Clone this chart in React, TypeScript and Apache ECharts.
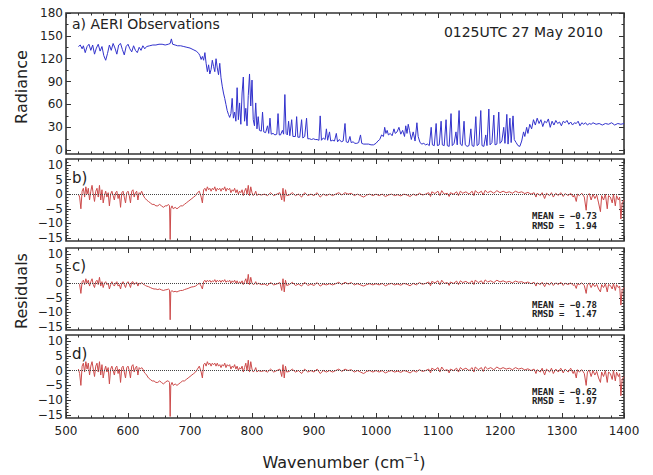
import React, { useEffect, useRef } from "react";
import * as echarts from "echarts";

// ---------- data ----------
const xTicks = [500, 600, 700, 800, 900, 1000, 1100, 1200, 1300, 1400];
const radTicks = [0, 30, 60, 90, 120, 150, 180];
const radMinorTicks = [15, 45, 75, 105, 135, 165];
const resTicks = [-15, -10, -5, 0, 5, 10];
const resMinorTicks = [-14, -13, -12, -11, -9, -8, -7, -6, -4, -3, -2, -1, 1, 2, 3, 4, 6, 7, 8, 9, 11];

// AERI observed radiance [wavenumber, radiance]
const radiance: [number, number][] = [
  [520, 136], [523, 138], [526, 133], [528, 137], [531, 128], [534, 136], [537, 139], [540, 131], [543, 138], [546, 126],
  [549, 134], [552, 139], [555, 130], [558, 136], [561, 124], [564, 118], [567, 127], [570, 138], [573, 131], [576, 140],
  [579, 134], [582, 126], [585, 138], [588, 140], [591, 132], [594, 125], [597, 136], [600, 139], [603, 133], [606, 129],
  [609, 137], [612, 131], [615, 128], [618, 135], [621, 131], [624, 137], [627, 133], [630, 136], [635, 137], [640, 138],
  [645, 138], [650, 139], [655, 139], [660, 138], [665, 139], [668, 140], [670, 146], [672, 139], [676, 138], [680, 137],
  [685, 137], [690, 136], [695, 135], [700, 134], [705, 132], [710, 130], [714, 127], [716, 124], [718, 119], [720, 123],
  [722, 118], [724, 128], [726, 114], [728, 103], [730, 112], [732, 100], [734, 106], [736, 118], [738, 110], [740, 103],
  [742, 120], [744, 108], [746, 99], [748, 114], [750, 95], [752, 84], [754, 75], [756, 68], [758, 60], [760, 52],
  [762, 47], [764, 43], [766, 48], [768, 68], [770, 42], [772, 50], [774, 38], [776, 82], [778, 40], [780, 62],
  [782, 34], [784, 75], [786, 96], [788, 38], [790, 55], [792, 32], [794, 72], [796, 100], [798, 58], [800, 92],
  [802, 40], [804, 32], [806, 62], [808, 28], [810, 44], [812, 26], [815, 25], [817, 50], [819, 24], [822, 23],
  [825, 32], [827, 22], [829, 42], [831, 21], [834, 22], [837, 20], [840, 21], [842, 48], [844, 20], [846, 20],
  [849, 26], [851, 21], [853, 73], [855, 22], [857, 20], [859, 38], [861, 19], [864, 40], [866, 18], [870, 18],
  [872, 44], [874, 17], [877, 17], [880, 40], [882, 16], [885, 18], [888, 42], [890, 15], [893, 15], [896, 14],
  [899, 15], [902, 14], [905, 14], [908, 13], [910, 45], [912, 13], [915, 16], [918, 14], [920, 28], [922, 13],
  [925, 24], [927, 12], [930, 13], [933, 12], [936, 22], [938, 11], [941, 14], [944, 11], [947, 12], [950, 35],
  [952, 11], [955, 10], [958, 18], [960, 10], [963, 11], [966, 9], [969, 9], [972, 10], [975, 20], [977, 9],
  [980, 8], [984, 8], [988, 8], [992, 7], [996, 7], [1000, 9], [1003, 12], [1006, 14], [1009, 20], [1012, 18],
  [1014, 30], [1016, 22], [1018, 26], [1020, 20], [1023, 22], [1026, 19], [1029, 28], [1031, 22], [1034, 24], [1037, 30],
  [1040, 21], [1043, 26], [1046, 18], [1048, 32], [1050, 22], [1052, 34], [1054, 26], [1057, 14], [1060, 24], [1063, 12],
  [1066, 36], [1068, 18], [1071, 10], [1074, 8], [1077, 9], [1080, 7], [1083, 8], [1086, 6], [1089, 30], [1091, 7],
  [1094, 6], [1097, 35], [1099, 6], [1102, 7], [1105, 38], [1107, 7], [1110, 6], [1113, 40], [1115, 6], [1118, 5],
  [1121, 48], [1123, 6], [1126, 9], [1129, 24], [1131, 7], [1134, 52], [1136, 8], [1139, 6], [1142, 38], [1144, 7],
  [1147, 5], [1150, 6], [1153, 28], [1155, 6], [1158, 5], [1161, 44], [1163, 6], [1166, 8], [1169, 52], [1171, 6],
  [1174, 5], [1177, 20], [1179, 6], [1182, 54], [1184, 7], [1187, 10], [1190, 46], [1192, 7], [1195, 8], [1198, 50],
  [1200, 9], [1203, 12], [1206, 30], [1208, 9], [1211, 47], [1213, 8], [1216, 42], [1218, 10], [1221, 45], [1223, 14],
  [1226, 10], [1229, 6], [1232, 5], [1235, 12], [1238, 24], [1240, 18], [1243, 30], [1245, 22], [1248, 34], [1251, 28],
  [1254, 40], [1257, 33], [1260, 42], [1263, 35], [1266, 40], [1269, 31], [1272, 38], [1275, 36], [1278, 41], [1281, 30],
  [1284, 38], [1287, 33], [1290, 39], [1293, 35], [1296, 37], [1299, 32], [1302, 38], [1305, 36], [1308, 39], [1311, 34],
  [1314, 37], [1317, 33], [1320, 36], [1323, 35], [1326, 38], [1329, 32], [1332, 36], [1335, 34], [1338, 36], [1341, 33],
  [1344, 35], [1347, 34], [1350, 36], [1355, 34], [1360, 35], [1365, 33], [1370, 35], [1375, 34], [1380, 36], [1385, 33],
  [1390, 35], [1395, 34], [1400, 35],
];

// residual wavenumber grid (shared by panels b, c, d)
const resX = [
  520, 522, 524, 526, 528, 530, 532, 534, 536, 538,
  540, 542, 544, 546, 548, 550, 552, 554, 556, 558,
  560, 562, 564, 566, 568, 570, 572, 574, 576, 578,
  580, 582, 584, 586, 588, 590, 592, 594, 596, 598,
  600, 602, 604, 606, 608, 610, 612, 614, 616, 618,
  620, 622, 624, 626, 628, 630, 633, 636, 639, 642,
  645, 648, 651, 654, 657, 660, 663, 665, 667, 668,
  669, 671, 673, 676, 679, 682, 685, 688, 691, 694,
  697, 700, 703, 706, 709, 712, 715, 718, 720, 722,
  724, 726, 728, 730, 732, 734, 736, 738, 740, 742,
  744, 746, 748, 750, 752, 754, 756, 758, 760, 762,
  764, 766, 768, 770, 772, 774, 776, 778, 780, 782,
  784, 786, 788, 790, 792, 794, 796, 798, 800, 802,
  804, 806, 808, 810, 815, 820, 825, 830, 835, 840,
  845, 848, 850, 852, 854, 856, 860, 865, 870, 875,
  880, 885, 890, 895, 900, 905, 910, 915, 920, 925,
  930, 935, 940, 945, 950, 955, 960, 965, 970, 975,
  980, 985, 990, 995, 1000, 1005, 1010, 1015, 1020, 1025,
  1030, 1035, 1040, 1045, 1050, 1055, 1060, 1065, 1070, 1075,
  1080, 1085, 1088, 1090, 1095, 1100, 1103, 1106, 1110, 1115,
  1118, 1120, 1125, 1130, 1133, 1136, 1140, 1145, 1150, 1155,
  1158, 1160, 1165, 1170, 1173, 1176, 1180, 1185, 1190, 1195,
  1200, 1205, 1210, 1215, 1220, 1225, 1230, 1235, 1240, 1245,
  1250, 1255, 1258, 1260, 1265, 1268, 1272, 1275, 1280, 1283,
  1286, 1290, 1294, 1298, 1302, 1305, 1310, 1314, 1318, 1320,
  1323, 1325, 1328, 1332, 1336, 1339, 1341, 1344, 1347, 1350,
  1353, 1356, 1359, 1362, 1364, 1367, 1370, 1373, 1375, 1378,
  1381, 1383, 1386, 1388, 1391, 1393, 1395, 1397, 1400,
];

const residualB = [
  0, -1, -5, 1, 2, -1, 2.5, 0, 2, -2,
  1, 3, 0, -2.5, 1, 2, -1, 3, -2, 1.5,
  -3, -0.5, 1, -1, 0.5, -4, 0, 1, -0.5, -2,
  0.5, 1, -1.5, 0, -4.5, 0.5, 1, -1, -3, 0.5,
  1, -0.5, -3, 1, 1.5, -1, 0.5, 1, -2, 0.5,
  0, 1, 0, -1, -1.5, -2, -2.5, -3, -3.5, -3.5,
  -4, -4, -3.5, -4, -4.5, -4, -4, -3.5, -4, -15.5,
  -5, -4, -5, -4.5, -5, -4.5, -4, -4, -3.5, -3,
  -2.5, -2, -1.5, -1, -0.5, 0.5, 1, -1, -3, 1.5,
  2, 1, 2.5, 1.5, 2, 1, 2, 1.5, 2.5, 1,
  2, 1.5, 2, 1, 2, 1.5, 2.5, 1, 2, 1.5,
  2, 0.5, 1.5, 1, 2, 0.5, 1.5, 0, 1, 0.5,
  1.5, -0.5, 1, 2, 0, 3, -0.5, 2.5, 0.5, -0.5,
  0, 1, -0.5, 0, -0.3, 0, -0.5, 0.5, -0.5, 0,
  0.5, -2, 2, -2.5, 1.5, -0.5, -0.3, 0.5, -0.5, 0,
  -1, 0.5, -0.5, 0, -0.5, 0.5, -1, 0, -0.5, 0,
  -0.5, 0, 0.5, -0.3, 0.5, 0, 0.3, -0.5, 0, -0.5,
  -1, -0.3, 0, -0.5, 0, -0.5, 0, -0.8, -0.3, 0,
  -0.5, -0.2, -0.6, 0, -0.3, -0.8, 0, -0.5, 0.3, -0.3,
  0, 0.5, -0.8, 0.8, 0.2, 1, -0.5, 1.2, 0, 0.3,
  -0.8, 0.5, 0, 0.8, -0.5, 1, 0.3, 0.8, 0, 1,
  -0.5, 1.2, 0.3, 1, -0.3, 1.3, 0.5, 1, 0.3, 1.2,
  0.5, 1, 0.5, 0.8, 0.3, 1, 0.5, 0.8, 0.2, 0.6,
  0, 0.5, -1, 0.3, -0.5, 0.5, -1.5, 0.3, -0.5, 0.5,
  -1, 0.3, -0.5, 0.5, -0.8, 0.2, -0.5, 0.3, -1, -0.3,
  -2.5, 0, -0.5, 0.3, -1, -5.5, -0.5, 0.2, -2, 0,
  -1.5, -0.3, -3, -6, -0.5, -2, 0, -5, -0.5, -1,
  -3, 0, -4, -0.5, -2, -1, -8.5, -3, -2,
];

const residualC = [
  0, -0.5, -3.5, 0.5, 1, -0.5, 1.5, 0, 1, -1,
  0.5, 1.5, -0.5, -1.5, 0.5, 1, -0.5, 2, -1, 0.5,
  -1.5, 0, 0.5, -0.5, 0, -2, -0.5, 0.5, -0.5, -1,
  0, 0.5, -1, -0.5, -2, 0, 0.5, -0.5, -1.5, 0,
  0.5, -0.3, -1.5, 0.3, 0.5, -0.5, 0, 0.3, -1, 0,
  -0.3, 0.2, -0.3, -0.5, -0.8, -1, -1.2, -1.5, -1.8, -2,
  -2, -2.2, -2, -2.3, -2.5, -2.3, -2.2, -2, -2.3, -12.5,
  -3, -2.5, -3, -2.8, -3, -2.7, -2.5, -2.5, -2.2, -2,
  -1.8, -1.5, -1.3, -1.2, -1, -0.5, 0, -1, -2, 0.5,
  1, 0.3, 1, 0.5, 1, 0.3, 0.8, 0.5, 1.2, 0.3,
  1, 0.5, 1, 0.3, 1, 0.5, 1.2, 0.3, 0.8, 0.5,
  1, 0, 0.8, 0.3, 1, 0, 0.8, -0.3, 0.5, 0,
  0.8, -0.5, 0.5, 1.5, -0.3, 3, -0.5, 2, 0, -0.5,
  -0.3, 0.5, -0.5, 0, -0.5, -0.3, -0.8, 0.2, -0.6, -0.3,
  0.2, -2.5, 1.5, -3, 1, -0.8, -0.5, 0.3, -0.8, -0.3,
  -1, 0.3, -0.8, -0.3, -0.8, 0.2, -1, -0.3, -0.6, -0.2,
  -0.6, -0.2, 0.3, -0.5, 0.3, -0.3, 0.2, -0.6, -0.2, -0.6,
  -1, -0.5, -0.2, -0.6, -0.2, -0.6, -0.1, -0.9, -0.4, -0.1,
  -0.6, -0.3, -0.7, -0.1, -0.4, -0.9, -0.1, -0.6, 0.2, -0.4,
  -0.1, 0.4, -0.9, 0.6, 0.1, 0.8, -0.6, 1, -0.1, 0.2,
  -0.8, 0.4, -0.1, 0.7, -0.5, 0.8, 0.2, 0.6, -0.1, 0.8,
  -0.5, 1, 0.2, 0.8, -0.3, 1.1, 0.4, 0.8, 0.2, 1,
  0.4, 0.8, 0.3, 0.6, 0.1, 0.7, 0.3, 0.5, 0, 0.4,
  -0.2, 0.3, -1, 0.1, -0.5, 0.3, -1.2, 0.1, -0.6, 0.3,
  -0.8, 0.1, -0.5, 0.3, -0.8, 0, -0.5, 0.1, -0.8, -0.4,
  -1.8, -0.2, -0.5, 0.1, -0.8, -3.5, -0.5, 0, -1.5, -0.2,
  -1.2, -0.4, -2, -3, -0.5, -1.5, -0.2, -3, -0.5, -0.8,
  -2, -0.2, -2.5, -0.5, -1.5, -1, -7.5, -2.5, -1.5,
];

const residualD = [
  0.5, -1, -5, 1.5, 2.5, -0.5, 3, 0.5, 2.5, -1.5,
  1.5, 3, 0.5, -2, 1.5, 2.5, -0.5, 3, -1.5, 2,
  -2.5, 0, 1.5, -0.5, 1, -4.5, 0.5, 1.5, 0, -1.5,
  1, 1.5, -1, 0.5, -4, 1, 1.5, -0.5, -2.5, 1,
  1.5, 0, -2.5, 1.5, 2, -0.5, 1, 1.5, -1.5, 1,
  0.5, 1, 0.5, -0.5, -1, -1.5, -2.5, -3, -3.5, -3.5,
  -4, -4, -3.5, -4, -4.5, -4, -3.5, -3.5, -4, -15.5,
  -5, -4, -5, -4.5, -5, -4.5, -4, -3.5, -3.5, -3,
  -2.5, -2, -1.5, -1, -0.5, 0.5, 1.5, -0.5, -2.5, 2,
  2.5, 1.5, 3, 2, 2.5, 1.5, 2.5, 2, 2.5, 1.5,
  2.5, 1.5, 2, 1, 2, 1.5, 2.5, 1, 2, 1.5,
  2, 0.5, 1.5, 1, 2, 0.5, 1.5, 0, 1, 0.5,
  1.5, -0.5, 1, 2.5, 0, 3.5, -0.5, 3, 0.5, -0.5,
  0, 1, -0.5, 0, -0.3, 0, -0.5, 0.5, -0.5, 0,
  0.5, -2, 2, -2.5, 1.5, -0.5, -0.3, 0.5, -0.5, 0,
  -1, 0.5, -0.5, 0, -0.5, 0.5, -1, 0, -0.5, 0,
  -0.5, 0, 0.5, -0.3, 0.5, 0, 0.3, -0.5, 0, -0.5,
  -1, -0.3, 0, -0.5, 0, -0.5, 0, -0.8, -0.3, 0,
  -0.5, -0.2, -0.6, 0, -0.3, -0.8, 0, -0.5, 0.3, -0.3,
  0, 0.5, -0.8, 0.8, 0.2, 1, -0.5, 1.2, 0, 0.3,
  -0.8, 0.5, 0, 0.8, -0.5, 1, 0.3, 0.8, 0, 1,
  -0.5, 1.2, 0.3, 1, -0.3, 1.3, 0.5, 1, 0.3, 1.2,
  0.5, 1, 0.5, 0.8, 0.3, 1, 0.5, 0.8, 0.2, 0.6,
  0, 0.5, -1, 0.3, -0.5, 0.8, -1.5, 0.5, -0.5, 0.8,
  -1, 0.5, -0.5, 0.8, -0.8, 0.5, -0.5, 0.8, -1, 0,
  -2.5, 0.3, -0.5, 0.3, -1, -5, -0.5, 0.2, -2, 0,
  -1.5, -0.3, -2.5, -4, -0.5, -2, 0, -4, -0.5, -1,
  -3, 0, -3.5, -0.5, -2, -1, -8.5, -3, -2,
];

const panelLabels = ["a) AERI Observations", "b)", "c)", "d)"];
const dateLabel = "0125UTC 27 May 2010";
const statsMean = ["-0.73", "-0.78", "-0.62"];
const statsRmsd = ["1.94", "1.47", "1.97"];

// ---------- styling ----------
const FONT = "DejaVu Sans";
const MONO = "DejaVu Sans Mono";
const INK = "#222";
const BLUE = "#3232cc";
const RED = "#cc4b4b";
const LEFT = 66;
const WIDTH = 558;
const GRIDS = [
  { top: 13, height: 141, min: -5, max: 180 },
  { top: 159, height: 82, min: -16, max: 12 },
  { top: 248, height: 82, min: -16, max: 12 },
  { top: 335, height: 83, min: -16, max: 12 },
];

const fmt = (v: number | string) => String(v).replace("-", "\u2212");

export default function App() {
  const ref = useRef<HTMLDivElement>(null);
  useEffect(() => {
    document.body.style.margin = "0";
    if (!ref.current) return;
    const chart = echarts.init(ref.current, undefined, { renderer: "svg" });

    const grid = GRIDS.map((g) => ({
      left: LEFT,
      width: WIDTH,
      top: g.top,
      height: g.height,
      show: true,
      borderColor: "#333",
      borderWidth: 1.6,
      backgroundColor: "transparent",
    }));

    const xAxis: any[] = [];
    GRIDS.forEach((_, i) => {
      ["bottom", "top"].forEach((pos) => {
        xAxis.push({
          type: "value",
          gridIndex: i,
          position: pos,
          min: xTicks[0],
          max: xTicks[xTicks.length - 1],
          interval: 100,
          axisLine: { show: false, onZero: false },
          splitLine: { show: false },
          axisTick: { show: true, inside: true, length: 5, lineStyle: { color: "#333", width: 1 } },
          minorTick: { show: true, splitNumber: 5, length: 2.5, lineStyle: { color: "#333", width: 1 } },
          minorSplitLine: { show: false },
          axisLabel: {
            show: i === 3 && pos === "bottom",
            formatter: (v: number) => String(v),
            fontFamily: FONT,
            fontSize: 12,
            color: INK,
            margin: 7,
          },
        });
      });
    });

    const yAxis: any[] = [];
    GRIDS.forEach((g, i) => {
      const majors = i === 0 ? radTicks : resTicks;
      const minors = i === 0 ? radMinorTicks : resMinorTicks;
      const base = {
        type: "value",
        gridIndex: i,
        min: g.min,
        max: g.max,
        axisLine: { show: false, onZero: false },
        splitLine: { show: false },
      };
      yAxis.push({
        ...base,
        position: "left",
        axisTick: { show: true, inside: true, length: 5, customValues: majors, lineStyle: { color: "#333" } },
        axisLabel: {
          show: true,
          customValues: majors,
          formatter: (v: number) => fmt(v),
          fontFamily: FONT,
          fontSize: 12,
          color: INK,
          margin: 3,
        },
      });
      yAxis.push({
        ...base,
        position: "left",
        axisTick: { show: true, inside: true, length: 2.5, customValues: minors, lineStyle: { color: "#333" } },
        axisLabel: { show: false },
      });
      yAxis.push({
        ...base,
        position: "right",
        axisTick: { show: true, inside: true, length: 5, customValues: majors, lineStyle: { color: "#333" } },
        axisLabel: { show: false },
      });
      yAxis.push({
        ...base,
        position: "right",
        axisTick: { show: true, inside: true, length: 2.5, customValues: minors, lineStyle: { color: "#333" } },
        axisLabel: { show: false },
      });
    });

    const zeroLine = {
      silent: true,
      symbol: ["none", "none"],
      label: { show: false },
      lineStyle: { type: "dotted", color: "#444", width: 1 },
      data: [{ yAxis: 0 }],
    };

    const residuals = [residualB, residualC, residualD];
    const series: any[] = [
      {
        type: "line",
        xAxisIndex: 0,
        yAxisIndex: 0,
        data: radiance,
        showSymbol: false,
        symbol: "none",
        lineStyle: { color: BLUE, width: 1 },
        z: 3,
      },
      ...residuals.map((r, k) => ({
        type: "line",
        xAxisIndex: 2 * (k + 1),
        yAxisIndex: 4 * (k + 1),
        data: resX.map((x, j) => [x, r[j]]),
        showSymbol: false,
        symbol: "none",
        lineStyle: { color: RED, width: 1 },
        markLine: zeroLine,
        z: 3,
      })),
    ];

    const graphic: any[] = [
      {
        type: "text",
        x: 72,
        y: 24,
        style: { text: panelLabels[0], font: `14px "${FONT}"`, fill: INK, verticalAlign: "middle" },
      },
      {
        type: "text",
        x: 603,
        y: 32,
        style: { text: dateLabel, font: `14px "${FONT}"`, fill: INK, align: "right", verticalAlign: "middle" },
      },
      { type: "text", x: 72, y: 178, style: { text: panelLabels[1], font: `15px "${FONT}"`, fill: INK, verticalAlign: "middle" } },
      { type: "text", x: 72, y: 266, style: { text: panelLabels[2], font: `15px "${FONT}"`, fill: INK, verticalAlign: "middle" } },
      { type: "text", x: 72, y: 354, style: { text: panelLabels[3], font: `15px "${FONT}"`, fill: INK, verticalAlign: "middle" } },
      {
        type: "text",
        x: 21,
        y: 87,
        rotation: Math.PI / 2,
        style: { text: "Radiance", font: `16px "${FONT}"`, fill: INK, align: "center", verticalAlign: "middle" },
      },
      {
        type: "text",
        x: 21,
        y: 291,
        rotation: Math.PI / 2,
        style: { text: "Residuals", font: `16px "${FONT}"`, fill: INK, align: "center", verticalAlign: "middle" },
      },
      {
        type: "text",
        x: 344,
        y: 462,
        style: {
          text: "{a|Wavenumber (cm}{s|\u22121}{a|)}",
          align: "center",
          verticalAlign: "middle",
          rich: {
            a: { fontFamily: FONT, fontSize: 16, fill: INK, color: INK, lineHeight: 20 },
            s: { fontFamily: FONT, fontSize: 10, fill: INK, color: INK, lineHeight: 10, verticalAlign: "top" },
          },
        },
      },
    ];
    const statY = [
      [216, 225.5],
      [304.5, 314],
      [392, 401],
    ];
    statY.forEach((yy, k) => {
      graphic.push({
        type: "text",
        x: 532,
        y: yy[0],
        style: { text: `MEAN = ${fmt(statsMean[k])}`, font: `bold 9px "${MONO}"`, fill: INK, verticalAlign: "middle" },
      });
      graphic.push({
        type: "text",
        x: 532,
        y: yy[1],
        style: { text: `RMSD =  ${statsRmsd[k]}`, font: `bold 9px "${MONO}"`, fill: INK, verticalAlign: "middle" },
      });
    });

    chart.setOption({
      animation: false,
      backgroundColor: "#fff",
      grid,
      xAxis,
      yAxis,
      series,
      graphic,
    });
    return () => chart.dispose();
  }, []);
  return <div ref={ref} style={{ width: 653, height: 475 }} />;
}
